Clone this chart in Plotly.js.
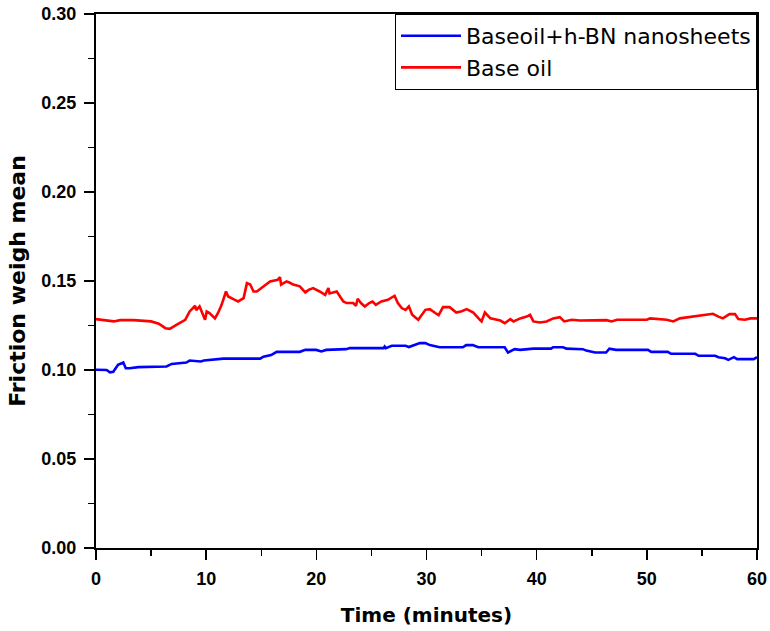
<!DOCTYPE html>
<html>
<head>
<meta charset="utf-8">
<script src="https://cdn.plot.ly/plotly-3.0.1.min.js"></script>
<style>
  html, body { margin: 0; padding: 0; background: #fff; }
  #chart { width: 770px; height: 631px; }
</style>
</head>
<body>
<div id="chart"></div>
<script>
// Friction coefficient vs time

// Base oil (red)
const timeBase = [0, 1.6, 2.2, 3.4, 5.0, 5.7, 6.3, 6.7, 7.3, 8.1, 8.5, 9.0, 9.1, 9.4, 9.9, 10.05, 10.3, 10.8, 11.1, 11.4,
    11.8, 12.0, 12.6, 12.9, 13.4, 13.7, 14.0, 14.3, 14.6, 15.2, 15.8, 16.5, 16.7, 16.8, 17.3, 17.6, 17.9, 18.5, 19.0, 19.3,
    19.7, 20.3, 20.8, 21.1, 21.2, 21.85, 22.1, 22.45, 22.75, 23.35, 23.6, 23.75, 24.05, 24.4, 24.8, 25.1, 25.4, 25.9, 26.5, 27.1,
    27.4, 27.75, 28.1, 28.4, 28.7, 29.25, 29.9, 30.3, 30.8, 31.1, 31.5, 32.1, 32.7, 33.2, 33.65, 34.25, 34.85, 35.0, 35.3, 35.8,
    36.7, 37.1, 37.6, 37.9, 38.5, 39.1, 39.4, 39.7, 40.3, 40.9, 41.5, 42.1, 42.5, 43.2, 43.9, 46.05, 46.35, 46.8, 47.3, 50.0,
    50.3, 51.8, 52.4, 53.0, 54.2, 56.0, 56.5, 56.9, 57.5, 58.0, 58.3, 58.9, 59.4, 60];
const frictionBase = [0.1286, 0.1273, 0.128, 0.128, 0.1273, 0.126, 0.1235, 0.1231, 0.1254, 0.1282, 0.1329, 0.1361, 0.1336, 0.1357, 0.1282, 0.1329, 0.132, 0.129, 0.1323, 0.1366,
    0.1441, 0.1413, 0.1394, 0.1385, 0.1404, 0.1488, 0.148, 0.1441, 0.1441, 0.147, 0.1498, 0.1507, 0.1522, 0.148, 0.1498, 0.149, 0.148, 0.147, 0.1436, 0.145,
    0.146, 0.1441, 0.1422, 0.146, 0.143, 0.1441, 0.142, 0.1385, 0.1376, 0.1376, 0.136, 0.14, 0.1376, 0.1357, 0.1376, 0.1385, 0.1366, 0.1385, 0.1394, 0.1417,
    0.1376, 0.1348, 0.1338, 0.1357, 0.131, 0.1282, 0.1338, 0.1342, 0.132, 0.1308, 0.1353, 0.1353, 0.1323, 0.133, 0.1342, 0.1323, 0.1282, 0.1273, 0.1323, 0.129,
    0.1278, 0.1263, 0.1286, 0.1273, 0.129, 0.13, 0.131, 0.1273, 0.1267, 0.1273, 0.129, 0.1297, 0.1273, 0.1282, 0.1278, 0.1278, 0.128, 0.1273, 0.1282, 0.1282,
    0.129, 0.1282, 0.1273, 0.129, 0.13, 0.1316, 0.13, 0.129, 0.1314, 0.1314, 0.1286, 0.1282, 0.129, 0.129];

// Base oil + h-BN nanosheets (blue)
const timeBN = [0, 0.96, 1.27, 1.57, 2.0, 2.48, 2.7, 3.05, 3.85, 6.4, 6.87, 8.2, 8.5, 9.5, 9.8, 10.4, 11.55, 14.9, 15.2, 15.9,
    16.4, 18.5, 19.0, 20.0, 20.45, 20.9, 22.7, 23.05, 26.1, 26.2, 26.3, 26.85, 28.1, 28.4, 29.4, 29.9, 30.3, 31.2, 33.3, 33.6,
    34.2, 34.7, 37.1, 37.4, 38.0, 38.5, 39.7, 41.3, 41.5, 42.4, 42.7, 44.2, 44.5, 45.3, 46.3, 46.6, 47.2, 50.1, 50.4, 51.9,
    52.2, 54.4, 54.7, 56.2, 56.5, 57.1, 57.4, 57.9, 58.2, 59.7, 59.9, 60];
const frictionBN = [0.1001, 0.1, 0.0987, 0.099, 0.1029, 0.1042, 0.101, 0.101, 0.1016, 0.102, 0.1034, 0.1042, 0.1053, 0.1048, 0.1053, 0.1057, 0.1064, 0.1064, 0.1075, 0.1084,
    0.1102, 0.1102, 0.1113, 0.1113, 0.1104, 0.1113, 0.1117, 0.1123, 0.1123, 0.1132, 0.1123, 0.1136, 0.1136, 0.1129, 0.1151, 0.1151, 0.114, 0.1128, 0.1128, 0.114,
    0.114, 0.1128, 0.1128, 0.1098, 0.1117, 0.1113, 0.112, 0.112, 0.1128, 0.1128, 0.112, 0.1117, 0.1109, 0.1098, 0.1098, 0.112, 0.1113, 0.1113, 0.1102, 0.1102,
    0.1091, 0.1091, 0.108, 0.108, 0.1072, 0.1066, 0.1057, 0.1072, 0.1061, 0.1061, 0.1072, 0.1072];

const seriesNames = ['Baseoil+h-BN nanosheets', 'Base oil'];

const tickFont = { family: 'Liberation Sans, Arial, sans-serif', size: 18, color: '#000', weight: 'bold' };

const data = [
    {
        x: timeBN,
        y: frictionBN,
        name: seriesNames[0],
        type: 'scatter',
        mode: 'lines',
        line: { color: '#0000ff', width: 2.6 }
    },
    {
        x: timeBase,
        y: frictionBase,
        name: seriesNames[1],
        type: 'scatter',
        mode: 'lines',
        line: { color: '#ff0000', width: 2.6 }
    }
];

const axisCommon = {
    showgrid: false,
    zeroline: false,
    showline: true,
    linecolor: '#000',
    linewidth: 2,
    mirror: true,
    ticks: 'outside',
    ticklen: 10,
    tickwidth: 1.5,
    tickcolor: '#000',
    tickfont: tickFont
};

const layout = {
    width: 770,
    height: 631,
    margin: { l: 96, r: 13, t: 14, b: 83 },
    paper_bgcolor: '#fff',
    plot_bgcolor: '#fff',
    showlegend: true,
    legend: {
        x: 1, xanchor: 'right',
        y: 1, yanchor: 'top',
        bgcolor: '#fff',
        bordercolor: '#000',
        borderwidth: 1,
        traceorder: 'normal',
        itemwidth: 60,
        font: { family: 'DejaVu Sans, sans-serif', size: 22, color: '#000' }
    },
    xaxis: Object.assign({}, axisCommon, {
        range: [0, 60],
        dtick: 10,
        tick0: 0,
        ticklabelstandoff: 3,
        minor: { ticks: 'outside', ticklen: 6, dtick: 5, tickwidth: 1.5, tickcolor: '#000', showgrid: false },
        title: { text: 'Time (minutes)', font: { family: 'DejaVu Sans, sans-serif', size: 20, color: '#000', weight: 'bold' }, standoff: 20 }
    }),
    yaxis: Object.assign({}, axisCommon, {
        range: [0, 0.30],
        dtick: 0.05,
        tick0: 0,
        tickformat: '.2f',
        ticklabelstandoff: 4,
        minor: { ticks: 'outside', ticklen: 6, dtick: 0.025, tickwidth: 1.5, tickcolor: '#000', showgrid: false },
        title: { text: 'Friction weigh mean', font: { family: 'DejaVu Sans, sans-serif', size: 22, color: '#000', weight: 'bold' }, standoff: 10 }
    })
};

Plotly.newPlot('chart', data, layout, { staticPlot: true, displayModeBar: false })
    .catch(err => console.error('plot failed', err));
</script>
</body>
</html>
